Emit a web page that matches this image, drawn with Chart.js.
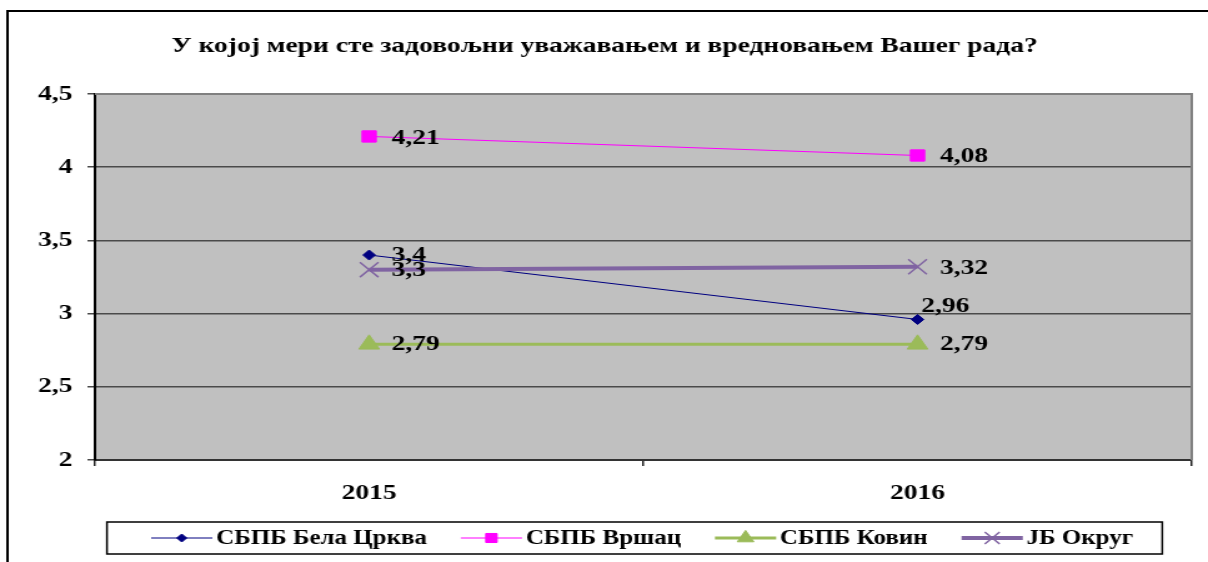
<!DOCTYPE html>
<html><head><meta charset="utf-8">
<script src="https://cdn.jsdelivr.net/npm/chart.js@4"></script>
<style>
html,body{margin:0;padding:0;background:#fff;overflow:hidden}
#wrap{width:967px;height:562px;transform:scaleX(1.2492);transform-origin:0 0}
canvas{display:block}
</style></head><body>
<div id="wrap"><canvas id="c" width="967" height="562"></canvas></div>
<script>
const titleText = 'У којој мери сте задовољни уважавањем и вредновањем Вашег рада?';
const categories = ['2015', '2016'];
const seriesNames = ['СБПБ Бела Црква', 'СБПБ Вршац', 'СБПБ Ковин', 'ЈБ Округ'];
const belaCrkva = [3.4, 2.96];
const vrsac = [4.21, 4.08];
const kovin = [2.79, 2.79];
const jbOkrug = [3.3, 3.32];
const yMin = 2, yMax = 4.5, yStep = 0.5;

const FONT = 'Liberation Serif';
const fmt = v => String(v).replace('.', ',');

const styles = [
  {color: '#000080', width: 1, point: 'rectRot', r: 5, pbw: 1, lbl: [[18, 0], [3, -13]]},
  {color: '#FF00FF', width: 1, point: 'rect', r: 8, pbw: 1, lbl: [[18, 2], [18, 1]]},
  {color: '#9BBB59', width: 3, point: 'triangle', r: 9.5, pbw: 1, lbl: [[18, 0], [18, 0]]},
  {color: '#8064A2', width: 4, point: 'crossRot', r: 10.5, pbw: 1.5, lbl: [[18, 1], [18, 2]]}
];
const seriesData = [belaCrkva, vrsac, kovin, jbOkrug];

const datasets = seriesData.map((d, i) => ({
  label: seriesNames[i],
  data: d,
  borderColor: styles[i].color,
  backgroundColor: styles[i].color,
  borderWidth: styles[i].width,
  pointStyle: styles[i].point,
  pointRadius: styles[i].r,
  pointBorderWidth: styles[i].pbw,
  pointBackgroundColor: styles[i].color,
  pointBorderColor: styles[i].color,
  tension: 0,
  order: 3 - i
}));

function drawMarker(ctx, style, x, y) {
  Chart.helpers.drawPoint(ctx, {pointStyle: style.point, radius: style.r, borderWidth: style.pbw, rotation: 0}, x, y);
}

const deco = {
  id: 'deco',
  beforeDraw(chart) {
    const {ctx, chartArea: a} = chart;
    ctx.save();
    ctx.fillStyle = '#fff';
    ctx.fillRect(0, 0, chart.width, chart.height);
    ctx.fillStyle = '#C0C0C0';
    ctx.fillRect(a.left, a.top, a.right - a.left, a.bottom - a.top);
    ctx.restore();
  },
  beforeDatasetsDraw(chart) {
    const {ctx, chartArea: a} = chart;
    ctx.save();
    ctx.strokeStyle = '#808080';
    ctx.lineWidth = 2;
    ctx.beginPath();
    ctx.moveTo(a.left, a.top); ctx.lineTo(a.right, a.top); ctx.lineTo(a.right, a.bottom);
    ctx.stroke();
    ctx.restore();
  },
  afterDatasetsDraw(chart) {
    const {ctx} = chart;
    ctx.save();
    ctx.font = `bold 22px "${FONT}"`;
    ctx.fillStyle = '#000';
    ctx.textAlign = 'left';
    ctx.textBaseline = 'middle';
    chart.data.datasets.forEach((ds, i) => {
      const meta = chart.getDatasetMeta(i);
      meta.data.forEach((pt, j) => {
        const off = styles[i].lbl[j];
        ctx.fillText(fmt(ds.data[j]), pt.x + off[0], pt.y + off[1]);
      });
    });
    ctx.restore();
  },
  afterDraw(chart) {
    const {ctx} = chart;
    ctx.save();
    // outer frame (top & left)
    ctx.strokeStyle = '#000';
    ctx.lineWidth = 2;
    ctx.beginPath();
    ctx.moveTo(6, chart.height); ctx.lineTo(6, 11); ctx.lineTo(chart.width, 11);
    ctx.stroke();
    // title
    ctx.fillStyle = '#000';
    ctx.font = `bold 22px "${FONT}"`;
    ctx.textAlign = 'center';
    ctx.textBaseline = 'middle';
    ctx.fillText(titleText, 484, 46);
    // legend
    const bx = 85.6, by = 522, bw = 844.8, bh = 32;
    ctx.lineWidth = 1.5;
    ctx.strokeStyle = '#000';
    ctx.strokeRect(bx, by, bw, bh);
    ctx.font = `bold 20px "${FONT}"`;
    ctx.textAlign = 'left';
    const lineLen = 49, gapT = 3;
    const startX = 121, endX = 907;
    const widths = seriesNames.map(n => ctx.measureText(n).width);
    const used = widths.reduce((s, w) => s + lineLen + gapT + w, 0);
    const gapI = (endX - startX - used) / (seriesNames.length - 1);
    let x = startX;
    const cy = by + bh / 2;
    seriesNames.forEach((n, i) => {
      const st = styles[i];
      ctx.strokeStyle = st.color;
      ctx.lineWidth = st.width;
      ctx.beginPath(); ctx.moveTo(x, cy); ctx.lineTo(x + lineLen, cy); ctx.stroke();
      ctx.fillStyle = st.color;
      ctx.strokeStyle = st.color;
      ctx.lineWidth = st.pbw;
      drawMarker(ctx, {point: st.point, r: st.r * 0.8, pbw: st.pbw}, x + lineLen / 2, cy);
      ctx.fillStyle = '#000';
      ctx.fillText(n, x + lineLen + gapT, cy + 1);
      x += lineLen + gapT + widths[i] + gapI;
    });
    ctx.restore();
  }
};

new Chart(document.getElementById('c'), {
  type: 'line',
  data: {labels: categories, datasets},
  options: {
    responsive: false,
    animation: false,
    layout: {padding: {left: 0, top: 94, right: 13, bottom: 0}},
    plugins: {legend: {display: false}, title: {display: false}, tooltip: {enabled: false}},
    scales: {
      x: {
        offset: true,
        grid: {offset: true, drawOnChartArea: false, drawTicks: true, tickLength: 6, color: '#222', lineWidth: 1.5},
        border: {display: true, color: '#333', width: 2},
        ticks: {font: {family: FONT, weight: 'bold', size: 22}, color: '#000', padding: 14},
        afterFit(s) { s.height = 102; }
      },
      y: {
        min: yMin, max: yMax,
        ticks: {stepSize: yStep, callback: v => fmt(v), font: {family: FONT, weight: 'bold', size: 22}, color: '#000', padding: 12},
        grid: {color: '#4a4a4a', lineWidth: 1.5, tickLength: 6, drawTicks: true},
        border: {display: true, color: '#000', width: 2},
        afterFit(s) { s.width = 76; }
      }
    }
  },
  plugins: [deco]
});
</script>
</body></html>
